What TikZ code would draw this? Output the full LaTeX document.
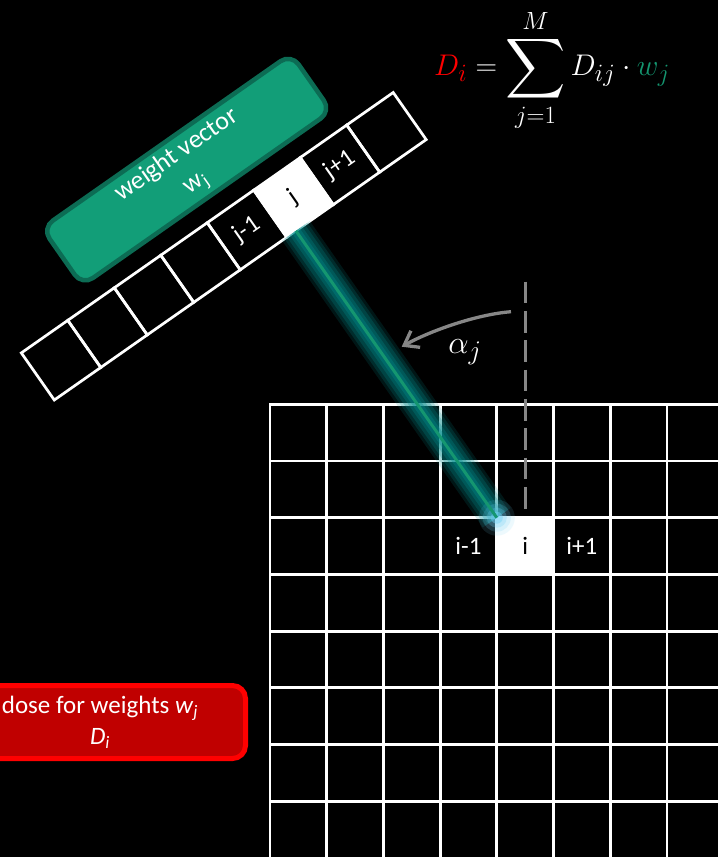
\documentclass[tikz,border=0pt]{standalone}
\usepackage{amsmath}
\usepackage[no-math]{fontspec}
\setmainfont{Carlito}
\usetikzlibrary{arrows.meta,calc}
\definecolor{wgreen}{RGB}{18,158,120}
\definecolor{wgreendark}{RGB}{12,108,84}
\definecolor{fgreen}{RGB}{20,150,112}
\definecolor{dred}{RGB}{192,0,0}
\definecolor{glowc}{RGB}{0,140,140}
\definecolor{arrgray}{RGB}{135,135,135}
\begin{document}
\begin{tikzpicture}[x=1pt,y=-1pt,
  gridline/.style={white, line width=2.8pt, line cap=rect},
  cellline/.style={white, line width=2.7pt, line join=miter},
  lbl/.style={font=\fontsize{25}{28}\selectfont, text=white, inner sep=0pt},
  boxtext/.style={text=white, align=center, inner sep=0pt},
  beamglow/.style={glowc, line width=#1},
]
\useasboundingbox (0,0) rectangle (718,857);
\clip (0,0) rectangle (718,857);
\fill[black] (0,0) rectangle (718,857);

% ---------- grid ----------
\def\cs{56.7}
\fill[white] (270+4*\cs, 404.3+2*\cs) rectangle ++(\cs,\cs);
\foreach \k in {0,...,8} {
  \draw[gridline] (270+\k*\cs, 404.3) -- (270+\k*\cs, 880);
  \draw[gridline] (270, 404.3+\k*\cs) -- (740, 404.3+\k*\cs);
}
\node[lbl] (im) at (270+3.5*\cs, 404.3+2.5*\cs) {i-1};
\node[lbl, text=black] (ii) at (270+4.5*\cs, 404.3+2.5*\cs) {i};
\node[lbl] (ip) at (270+5.5*\cs, 404.3+2.5*\cs) {i+1};
\coordinate (ic) at (270+4*\cs, 404.3+2*\cs);

% ---------- dashed vertical and angle arrow ----------
\coordinate (dtop) at (525.1,281.7);
\coordinate (dbot) at (525.1,508.5);
\draw[arrgray, line width=2.8pt, dash pattern=on 21.7pt off 7.6pt] (dtop) -- (dbot);
\coordinate (as) at (511,311.7);
\coordinate (ae) at (401.7,346.7);
\draw[arrgray, line width=3.3pt, -{Straight Barb[length=13pt,width=19pt]}]
  (as) .. controls (476,314.5) and (430,331) .. (ae);
\node[text=white, inner sep=0pt] (alpha) at (465,352)
  {\scalebox{1.3}{\fontsize{24.88}{30}\selectfont$\alpha_j$}};

% ---------- weight vector strip ----------
\begin{scope}[shift={(54.3,400)}, rotate=35]
  \coordinate (sbl) at (0,0);
  \coordinate (sbr) at (454,0);
  \fill[white] (5*56.75,-57.5) rectangle ++(56.75,57.5);
  \foreach \k in {0,...,7} \draw[cellline] (\k*56.75,-57.5) rectangle ++(56.75,57.5);
  \node[lbl, rotate=35] (jm) at (4.5*56.75,-28.75) {j-1};
  \node[lbl, rotate=35, text=black] (jj) at (5.5*56.75,-28.75) {j};
  \node[lbl, rotate=35] (jp) at (6.5*56.75,-28.75) {j+1};
\end{scope}
\coordinate (bs) at ($(sbl)!(ic)!(sbr)$);

% ---------- beam ----------
\foreach \w/\o in {34/0.16, 28/0.2, 22/0.25, 15/0.3, 9/0.35} {
  \draw[beamglow=\w pt, opacity=\o] (bs) -- (ic);
}
\foreach \r/\o in {18/0.12, 14/0.18, 10/0.26, 6/0.45} {
  \fill[cyan!55!white, opacity=\o] (ic) circle (\r);
}
\draw[fgreen, line width=3pt] (bs) -- (ic);

% ---------- weight vector box ----------
\node[draw=wgreendark, line width=4.5pt, fill=wgreen, rounded corners=13pt,
      minimum width=304pt, minimum height=70pt, rotate=35, boxtext,
      font=\fontsize{26}{33}\selectfont] (wbox) at (186.7,169.6)
      {weight vector\\w\textsubscript{j}};

% ---------- formula ----------
\node[text=white, inner sep=0pt] (form) at (552,70)
  {\scalebox{1.2}{\fontsize{24.88}{30}\selectfont$\textcolor{red}{D_i} = \mathop{\vcenter{\hbox{\scalebox{1.4}{$\displaystyle\sum$}}}}\limits_{j=1}^{M} D_{ij}\cdot\textcolor{fgreen}{w_j}$}};

% ---------- dose box ----------
\node[draw=red, line width=5pt, fill=dred, rounded corners=13pt,
      minimum width=291pt, minimum height=73pt, boxtext,
      font=\fontsize{25}{31}\selectfont] (dbox) at (100,722)
      {dose for weights \textit{w}\textsubscript{\textit{j}}\\\textit{D}\textsubscript{\textit{i}}};
\end{tikzpicture}
\end{document}
